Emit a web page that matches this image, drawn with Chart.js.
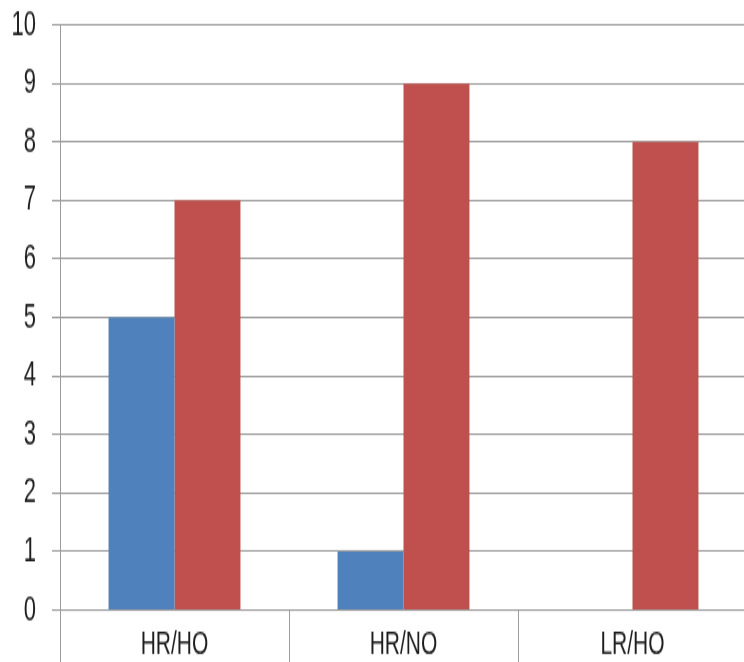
<!DOCTYPE html>
<html>
<head>
<meta charset="utf-8">
<script src="https://cdn.jsdelivr.net/npm/chart.js@4/dist/chart.umd.min.js"></script>
<style>
  html, body { margin: 0; padding: 0; background: #fff; }
  #page {
    width: 744px;
    height: 662px;
    overflow: hidden;
    position: relative;
  }
  /* chart is drawn short and stretched tall, like the old exported graph */
  #wrap {
    position: absolute;
    left: 0;
    top: 0;
    width: 748px;
    height: 414px;
    transform: scaleY(1.599);
    transform-origin: 0 0;
  }
</style>
</head>
<body>
<div id="page">
  <div id="wrap"><canvas id="chart" width="748" height="414"></canvas></div>
</div>
<script>
const categories = ["HR/HO", "HR/NO", "LR/HO"];
const blueValues = [5, 1, 0];
const redValues = [7, 9, 8];
const yTicks = [0, 1, 2, 3, 4, 5, 6, 7, 8, 9, 10];

const gridColor = "#9c9c9c";
const textColor = "#1e1e1e";

const ctx = document.getElementById("chart").getContext("2d");

new Chart(ctx, {
  type: "bar",
  data: {
    labels: categories,
    datasets: [
      {
        label: "Series 1",
        data: blueValues,
        backgroundColor: "#4f81bd",
        categoryPercentage: 0.576,
        barPercentage: 1.0,
      },
      {
        label: "Series 2",
        data: redValues,
        backgroundColor: "#c0504d",
        categoryPercentage: 0.576,
        barPercentage: 1.0,
      },
    ],
  },
  options: {
    responsive: false,
    devicePixelRatio: 1,
    animation: false,
    layout: { padding: { top: 15.6, right: 1, bottom: 0, left: 0 } },
    plugins: {
      legend: { display: false },
      tooltip: { enabled: false },
    },
    scales: {
      x: {
        offset: true,
        grid: {
          offset: true,
          drawOnChartArea: false,
          drawTicks: true,
          tickLength: 33,
          color: gridColor,
          lineWidth: 1,
        },
        border: { display: true, color: gridColor, width: 1 },
        ticks: {
          padding: -24,
          color: textColor,
          font: { family: "'Liberation Sans', Arial, sans-serif", size: 21 },
          maxRotation: 0,
        },
        afterFit: (scale) => {
          scale.height = 32.5;
        },
      },
      y: {
        min: 0,
        max: 10,
        afterBuildTicks: (scale) => {
          scale.ticks = yTicks.map((v) => ({ value: v }));
        },
        grid: {
          color: gridColor,
          lineWidth: 1,
          drawTicks: true,
          tickLength: 8,
        },
        border: { display: true, color: gridColor, width: 1 },
        ticks: {
          padding: 16,
          color: textColor,
          font: { family: "'Liberation Sans', Arial, sans-serif", size: 22 },
        },
        afterFit: (scale) => {
          scale.width = 60;
          // labels fit inside the layout padding already
          scale.paddingTop = 0;
          scale.paddingBottom = 0;
        },
      },
    },
  },
});
</script>
</body>
</html>
